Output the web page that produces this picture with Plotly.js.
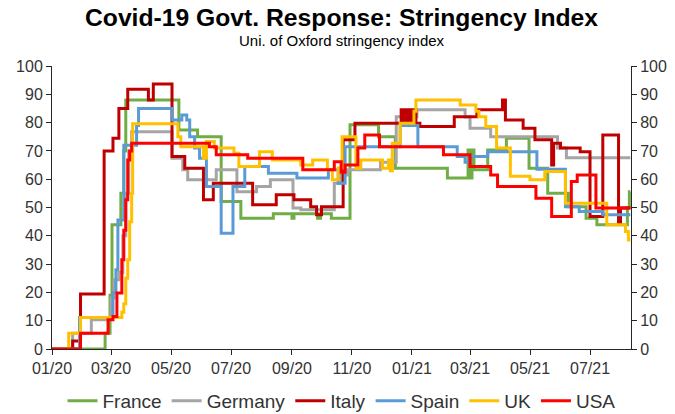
<!DOCTYPE html>
<html>
<head>
<meta charset="utf-8">
<script src="https://cdn.plot.ly/plotly-3.0.1.min.js"></script>
<style>html,body{margin:0;padding:0;background:#fff;}#chart{width:675px;height:414px;}</style>
</head>
<body>
<div id="chart"></div>
<script>
const countries = ["France","Germany","Italy","Spain","UK","USA"];
const colors = ["#70AD47","#A5A5A5","#C00000","#5B9BD5","#FFC000","#FF0000"];

const franceDates = ["2020-01-01","2020-02-24","2020-02-29","2020-03-02","2020-03-11","2020-03-14","2020-03-16","2020-05-09","2020-05-28","2020-06-21","2020-07-11","2020-08-13","2020-09-01","2020-09-03","2020-09-27","2020-09-30","2020-10-11","2020-10-30","2020-11-28","2020-12-15","2021-02-06","2021-02-27","2021-03-01","2021-03-03","2021-03-05","2021-03-19","2021-04-07","2021-04-30","2021-05-19","2021-06-09","2021-06-27","2021-07-08","2021-08-08","2021-08-10","2021-08-11"];
const franceVals = [0,5.6,19,43.9,55,70,88,77.4,75,52.1,46.2,47.8,46.2,47.8,46.2,47.8,46.2,79.2,75,63.9,60.4,70.3,60.4,70.3,63.3,70.3,74.5,63.9,55,50.3,46.2,43.9,50,55.6,55.6];

const germanyDates = ["2020-01-01","2020-01-22","2020-02-10","2020-03-01","2020-03-04","2020-03-09","2020-03-13","2020-03-16","2020-03-19","2020-03-22","2020-05-02","2020-05-13","2020-05-18","2020-06-16","2020-07-07","2020-07-27","2020-08-10","2020-09-02","2020-09-10","2020-10-14","2020-10-21","2020-10-28","2020-11-30","2020-12-16","2021-01-06","2021-02-24","2021-03-01","2021-03-22","2021-05-29","2021-06-07","2021-08-11"];
const germanyVals = [0,5.6,10.3,18,24.5,27,40,55,70,76.8,67.4,63.3,59.8,63.3,55.6,57.4,59.8,49.8,49.2,58.6,61.5,63.3,66,82.1,84.5,82,78,75,71,67.6,67.6];

const italyDates = ["2020-01-01","2020-01-22","2020-01-30","2020-02-23","2020-03-03","2020-03-09","2020-03-18","2020-04-08","2020-04-13","2020-05-02","2020-05-15","2020-06-03","2020-06-13","2020-07-23","2020-08-16","2020-09-03","2020-09-20","2020-09-26","2020-10-01","2020-10-23","2020-11-04","2020-12-21","2020-12-24","2020-12-27","2020-12-30","2021-01-02","2021-01-05","2021-01-09","2021-02-13","2021-03-08","2021-04-03","2021-04-06","2021-04-24","2021-05-06","2021-05-23","2021-05-25","2021-06-01","2021-06-21","2021-07-01","2021-07-14","2021-07-30","2021-08-01","2021-08-11"];
const italyVals = [0,2.8,19.4,70,74.5,85,91.8,88,93.6,68,63.9,52.7,58.6,51,54.5,52.7,50.3,47.4,50.3,73.9,79.8,84.5,79.8,84.5,79.8,84.5,79.8,78.6,82.1,84.5,88,80.9,78,73.9,65,72.7,71,69.7,46.8,75.6,44.5,49.8,49.8];

const spainDates = ["2020-01-01","2020-01-29","2020-03-03","2020-03-06","2020-03-08","2020-03-14","2020-03-27","2020-03-29","2020-05-02","2020-05-12","2020-05-17","2020-05-20","2020-05-25","2020-05-30","2020-06-06","2020-06-21","2020-07-03","2020-07-15","2020-08-08","2020-09-06","2020-10-08","2020-10-18","2020-10-25","2020-12-20","2021-01-07","2021-02-16","2021-02-24","2021-03-01","2021-03-19","2021-05-08","2021-06-06","2021-06-20","2021-07-14","2021-08-11"];
const spainVals = [0,11.1,20,28,45.6,72,79,85,80.9,82.7,80.9,75,71,67.4,57.4,40.9,57.4,64.5,62.1,60.4,63.3,58.6,71.5,79,71.5,68,66,68,69.7,63.5,50.3,48.6,47.4,47.4];

const ukDates = ["2020-01-01","2020-01-18","2020-01-30","2020-03-12","2020-03-14","2020-03-16","2020-03-18","2020-03-20","2020-03-22","2020-03-23","2020-05-08","2020-05-11","2020-06-03","2020-06-06","2020-06-14","2020-07-04","2020-07-09","2020-07-30","2020-08-12","2020-09-10","2020-09-22","2020-10-07","2020-10-12","2020-10-18","2020-10-22","2020-11-05","2020-11-10","2020-12-02","2020-12-08","2020-12-10","2020-12-12","2020-12-20","2021-01-03","2021-01-05","2021-02-19","2021-03-07","2021-03-10","2021-03-17","2021-03-28","2021-04-11","2021-05-01","2021-05-16","2021-06-06","2021-07-18","2021-08-06","2021-08-09","2021-08-11"];
const ukVals = [0,5.6,11.1,13,16,25,31.5,45,55,79.6,75,71.5,67.4,73.3,71,69.2,64.5,69.7,66.8,65,66.8,63.3,59.8,64,75,63.9,66.8,63.9,66.8,63,72.7,79.8,84,88,86.2,84,82.1,78.6,71,61,59.8,62.7,51.5,43.9,41.5,38.5,38.5];

const usaDates = ["2020-01-01","2020-01-30","2020-02-27","2020-03-03","2020-03-07","2020-03-12","2020-03-14","2020-03-16","2020-03-18","2020-03-20","2020-03-22","2020-06-09","2020-06-16","2020-07-18","2020-09-12","2020-10-14","2020-10-21","2020-10-25","2020-11-07","2020-11-14","2020-11-29","2021-02-02","2021-03-01","2021-03-22","2021-03-29","2021-05-07","2021-05-23","2021-06-12","2021-06-18","2021-07-07","2021-08-11"];
const usaVals = [0,5.6,10.3,11.5,19.8,31.5,42,52.7,66.8,70,72.7,71.5,68.6,67.4,63.3,66.2,62.5,65,71,75.6,71.5,68.6,64.5,61.5,57.4,53.3,46.8,59.2,61.5,49.8,49.8];

const yTicks = [0,10,20,30,40,50,60,70,80,90,100];

const seriesDates = [franceDates, germanyDates, italyDates, spainDates, ukDates, usaDates];
const seriesVals = [franceVals, germanyVals, italyVals, spainVals, ukVals, usaVals];

const font = "Liberation Sans, Arial, sans-serif";
const traces = countries.map((c, i) => ({
  type: "scatter", mode: "lines", name: c,
  x: seriesDates[i], y: seriesVals[i],
  line: {color: colors[i], width: 3, shape: "hv"},
  hoverinfo: "skip"
}));

const yCommon = {
  range: [0, 100], tickvals: yTicks, ticktext: yTicks.map(String),
  showgrid: false, zeroline: false, showline: true, linecolor: "#262626", linewidth: 1,
  ticks: "outside", ticklen: 5, tickcolor: "#262626",
  tickfont: {family: font, size: 16, color: "#333333"}, fixedrange: true
};

const layout = {
  width: 675, height: 414,
  margin: {l: 52, r: 44, t: 66, b: 65, pad: 0, autoexpand: false},
  paper_bgcolor: "#ffffff", plot_bgcolor: "#ffffff",
  title: {
    text: "<b>Covid-19 Govt. Response: Stringency Index</b>",
    font: {family: font, size: 24.7, color: "#000000"},
    x: 0.5, xref: "paper", xanchor: "center",
    y: 1 - 17/414, yref: "container", yanchor: "middle"
  },
  annotations: [{
    text: "Uni. of Oxford stringency index", showarrow: false,
    xref: "paper", yref: "paper", x: 0.5, xanchor: "center",
    y: 1 + (66 - 40)/283, yanchor: "middle",
    font: {family: font, size: 15, color: "#000000"}
  }],
  xaxis: {
    type: "date", range: ["2020-01-01", "2021-08-11 16:00"],
    tick0: "2020-01-01", dtick: "M2", tickformat: "%m/%y",
    showgrid: false, zeroline: false, showline: true, linecolor: "#262626", linewidth: 1,
    ticks: "outside", ticklen: 5, tickcolor: "#262626",
    tickfont: {family: font, size: 16, color: "#333333"}, fixedrange: true
  },
  yaxis: Object.assign({}, yCommon, {side: "left"}),
  yaxis2: Object.assign({}, yCommon, {side: "right", overlaying: "y", anchor: "x"}),
  showlegend: true,
  legend: {
    orientation: "h", x: 0.5, xanchor: "center",
    y: -(401 - 349)/283, yanchor: "middle",
    font: {family: font, size: 19, color: "#333333"},
    bgcolor: "rgba(0,0,0,0)", borderwidth: 0
  }
};

// invisible trace to anchor the right-hand axis
traces.push({type: "scatter", mode: "lines", x: ["2020-01-01"], y: [0], yaxis: "y2",
  showlegend: false, hoverinfo: "skip", line: {width: 0, color: "rgba(0,0,0,0)"}});

Plotly.newPlot("chart", traces, layout, {displayModeBar: false, staticPlot: true});
</script>
</body>
</html>
